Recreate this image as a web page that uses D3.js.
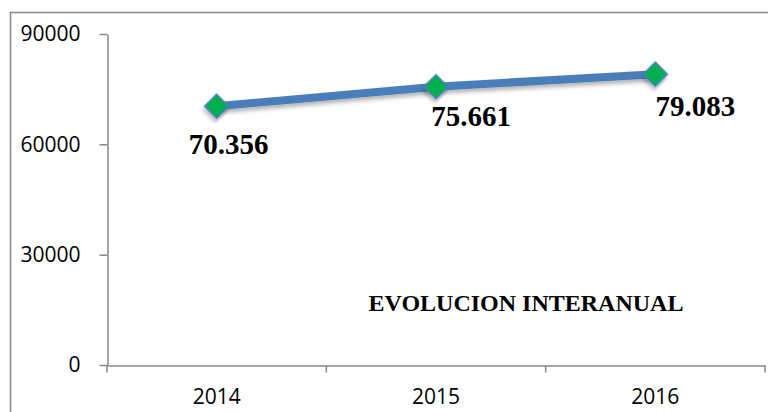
<!DOCTYPE html>
<html>
<head>
<meta charset="utf-8">
<script src="https://cdn.jsdelivr.net/npm/d3@7"></script>
<style>
  html, body { margin: 0; padding: 0; background: #fff; }
  svg { display: block; }
</style>
</head>
<body>
<svg id="chart"></svg>
<script>
const years = ["2014", "2015", "2016"];
const values = [70356, 75661, 79083];
const valueLabels = ["70.356", "75.661", "79.083"];
const yTicks = [0, 30000, 60000, 90000];
const chartTitle = "EVOLUCION INTERANUAL";

const width = 768;
const height = 412;
const axisColor = "#888888";

// hand-placed data labels, as in the original
const labelOffsets = [
  { dx: 12, dy: 48 },
  { dx: 35, dy: 39 },
  { dx: 40, dy: 42 }
];

const chart = d3
  .select("#chart")
  .attr("width", width)
  .attr("height", height)
  .attr("viewBox", `0 0 ${width} ${height}`);

const defs = chart.append("defs");
const shadow = defs
  .append("filter")
  .attr("id", "shadow")
  .attr("x", "-20%")
  .attr("y", "-50%")
  .attr("width", "140%")
  .attr("height", "200%");
shadow
  .append("feDropShadow")
  .attr("dx", 2)
  .attr("dy", 3)
  .attr("stdDeviation", 2)
  .attr("flood-color", "#000")
  .attr("flood-opacity", 0.3);

// outer chart border (cut off on right and bottom)
chart
  .append("rect")
  .attr("x", 10.5)
  .attr("y", 12.5)
  .attr("width", width + 20)
  .attr("height", height + 20)
  .attr("fill", "none")
  .attr("stroke", axisColor)
  .attr("stroke-width", 1.5);

const xScale = d3
  .scaleBand()
  .domain(years)
  .range([107, 765])
  .paddingInner(0)
  .paddingOuter(0);

const yScale = d3.scaleLinear().domain([0, 90000]).range([365, 34]);

// y axis
const yAxis = chart
  .append("g")
  .attr("transform", "translate(107.5, 0)")
  .call(
    d3
      .axisLeft(yScale)
      .tickValues(yTicks)
      .tickSize(8)
      .tickPadding(19)
      .tickSizeOuter(0)
      .tickFormat(d3.format("d"))
  );
yAxis.select(".domain").attr("stroke", axisColor).attr("stroke-width", 1.5);
yAxis.selectAll(".tick line").attr("stroke", axisColor).attr("stroke-width", 1.5);
yAxis
  .selectAll(".tick text")
  .attr("fill", "#000")
  .style("font-family", "'Open Sans', sans-serif")
  .style("font-size", "21px");

// x axis: labels centred in bands, ticks on band edges
const xAxis = chart
  .append("g")
  .attr("transform", "translate(0, 365.5)")
  .call(d3.axisBottom(xScale).tickSize(0).tickPadding(24).tickSizeOuter(0));
xAxis.select(".domain").attr("stroke", axisColor).attr("stroke-width", 1.5);
xAxis
  .selectAll(".tick text")
  .attr("fill", "#000")
  .style("font-family", "'Open Sans', sans-serif")
  .style("font-size", "21px");

const edges = years.map((y) => xScale(y)).concat([xScale(years[years.length - 1]) + xScale.bandwidth()]);
xAxis
  .selectAll("line.edge")
  .data(edges)
  .enter()
  .append("line")
  .attr("class", "edge")
  .attr("x1", (d) => d)
  .attr("x2", (d) => d)
  .attr("y1", 0)
  .attr("y2", 7)
  .attr("stroke", axisColor)
  .attr("stroke-width", 1.5);

const points = years.map((y, i) => ({
  x: xScale(y) + xScale.bandwidth() / 2,
  y: yScale(values[i]),
  label: valueLabels[i],
  off: labelOffsets[i]
}));

// series line
const line = d3
  .line()
  .x((d) => d.x)
  .y((d) => d.y);

chart
  .append("path")
  .datum(points)
  .attr("d", line)
  .attr("fill", "none")
  .attr("stroke", "#4a7ebb")
  .attr("stroke-width", 8)
  .attr("stroke-linejoin", "round")
  .attr("filter", "url(#shadow)");

// diamond markers
const diamond = d3.symbol().type(d3.symbolSquare).size(290);
chart
  .selectAll("path.marker")
  .data(points)
  .enter()
  .append("path")
  .attr("class", "marker")
  .attr("d", diamond)
  .attr("transform", (d) => `translate(${d.x}, ${d.y}) rotate(45)`)
  .attr("fill", "#00b050")
  .attr("stroke", "#4a7ebb")
  .attr("stroke-width", 1.5)
  .attr("filter", "url(#shadow)");

// value labels
chart
  .selectAll("text.value")
  .data(points)
  .enter()
  .append("text")
  .attr("class", "value")
  .attr("x", (d) => d.x + d.off.dx)
  .attr("y", (d) => d.y + d.off.dy)
  .attr("text-anchor", "middle")
  .style("font-family", "'Liberation Serif', serif")
  .style("font-weight", "bold")
  .style("font-size", "29px")
  .text((d) => d.label);

chart
  .append("text")
  .attr("x", 526)
  .attr("y", 311)
  .attr("text-anchor", "middle")
  .style("font-family", "'Liberation Serif', serif")
  .style("font-weight", "bold")
  .style("font-size", "24px")
  .text(chartTitle);
</script>
</body>
</html>
